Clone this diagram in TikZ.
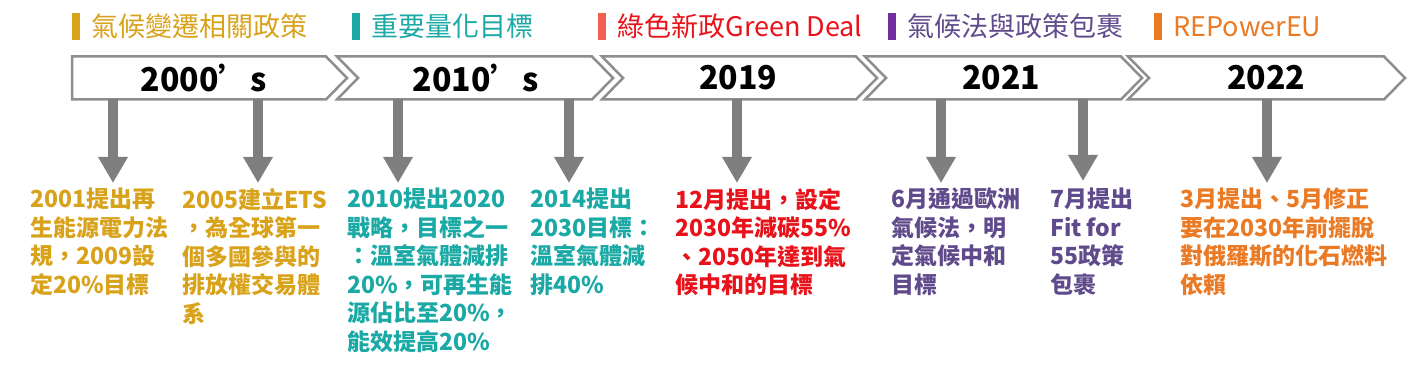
\documentclass[tikz,border=0pt]{standalone}
\usepackage{fontspec}
\setmainfont{Noto Sans CJK TC}[Script=CJK,Language=Chinese Traditional]
\usetikzlibrary{arrows.meta,positioning}
\definecolor{gold}{HTML}{D9A21B}
\definecolor{teal}{HTML}{1AA9A5}
\definecolor{red}{HTML}{E8121A}
\definecolor{coral}{HTML}{F4604F}
\definecolor{plum}{HTML}{5F4B8B}
\definecolor{violet}{HTML}{7030A0}
\definecolor{orange}{HTML}{EA7A24}
\definecolor{rim}{HTML}{8E8E8E}
\definecolor{shaft}{HTML}{7F7F7F}

\begin{document}
\begin{tikzpicture}[x=1pt,y=-1pt,line join=miter,
  chev/.style={draw=rim,line width=2.5pt,fill=white},
  year/.style={inner sep=0pt,font=\fontsize{32}{32}\selectfont\bfseries},
  keybar/.style={rectangle,minimum width=8pt,minimum height=27pt,inner sep=0pt},
  keytext/.style={inner sep=0pt,font=\fontsize{27}{27}\selectfont},
  note/.style={anchor=north west,inner sep=0pt,align=left,
    font=\fontsize{23}{28.5}\selectfont\bfseries},
  down/.style={shaft,line width=10pt,-{Triangle[width=28pt,length=26pt]}}]
  \useasboundingbox (0,0) rectangle (1427,366);

  % Legend.
  \node[keybar,fill=gold] (k1) at (76,26.5) {};
  \node[keytext,gold,right=11pt of k1] (l1) {氣候變遷相關政策};
  \node[keybar,fill=teal] (k2) at (356,26.5) {};
  \node[keytext,teal,right=11pt of k2] (l2) {重要量化目標};
  \node[keybar,fill=coral] (k3) at (602,26.5) {};
  \node[keytext,red,right=11pt of k3] (l3) {綠色新政Green Deal};
  \node[keybar,fill=violet] (k4) at (892,26.5) {};
  \node[keytext,plum,right=11pt of k4] (l4) {氣候法與政策包裹};
  \node[keybar,fill=orange] (k5) at (1158,26.5) {};
  \node[keytext,orange,right=11pt of k5] (l5) {REPowerEU};

  % Timeline band.
  \draw[chev] (72,56.5)--(326,56.5)--(347,78)--(326,99.5)--(72,99.5)--cycle;
  \draw[chev] (337,56.5)--(592,56.5)--(613,78)--(592,99.5)--(337,99.5)--(358,78)--cycle;
  \draw[chev] (602,56.5)--(856,56.5)--(877,78)--(856,99.5)--(602,99.5)--(623,78)--cycle;
  \draw[chev] (865,56.5)--(1121,56.5)--(1142,78)--(1121,99.5)--(865,99.5)--(886,78)--cycle;
  \draw[chev] (1128,56.5)--(1384,56.5)--(1405,78)--(1384,99.5)--(1128,99.5)--(1149,78)--cycle;
  \coordinate (base) at (0,99);
  \node[year] (y1) at (204,78) {2000’s};
  \node[year] (y2) at (476,78) {2010’s};
  \node[year] (y3) at (738,78) {2019};
  \node[year] (y4) at (1001,78) {2021};
  \node[year] (y5) at (1266,78) {2022};

  % Events.
  \node[note,gold] (t1) at (30,188) {2001提出再\\生能源電力法\\規，2009設\\定20\%目標};
  \node[note,gold] (t2) at (182,188) {2005建立ETS\\，為全球第一\\個多國參與的\\排放權交易體\\系};
  \node[note,teal] (t3) at (347,188) {2010提出2020\\戰略，目標之一\\：溫室氣體減排\\20\%，可再生能\\源佔比至20\%，\\能效提高20\%};
  \node[note,teal] (t4) at (530,188) {2014提出\\2030目標：\\溫室氣體減\\排40\%};
  \node[note,red] (t5) at (675,188) {12月提出，設定\\2030年減碳55\%\\、2050年達到氣\\候中和的目標};
  \node[note,plum] (t6) at (891,188) {6月通過歐洲\\氣候法，明\\定氣候中和\\目標};
  \node[note,plum] (t7) at (1050,188) {7月提出\\Fit for\\55政策\\包裹};
  \node[note,orange] (t8) at (1180,188) {3月提出、5月修正\\要在2030年前擺脫\\對俄羅斯的化石燃料\\依賴};

  % Arrow tips.
  \coordinate (a1) at (113,183);
  \coordinate (a2) at (258,183);
  \coordinate (a3) at (398,183);
  \coordinate (a4) at (569,183);
  \coordinate (a5) at (737,183);
  \coordinate (a6) at (941,183);
  \coordinate (a7) at (1083,181);
  \coordinate (a8) at (1267,183);
  \draw[down] (a1 |- base) -- (a1);
  \draw[down] (a2 |- base) -- (a2);
  \draw[down] (a3 |- base) -- (a3);
  \draw[down] (a4 |- base) -- (a4);
  \draw[down] (a5 |- base) -- (a5);
  \draw[down] (a6 |- base) -- (a6);
  \draw[down] (a7 |- base) -- (a7);
  \draw[down] (a8 |- base) -- (a8);
\end{tikzpicture}
\end{document}
